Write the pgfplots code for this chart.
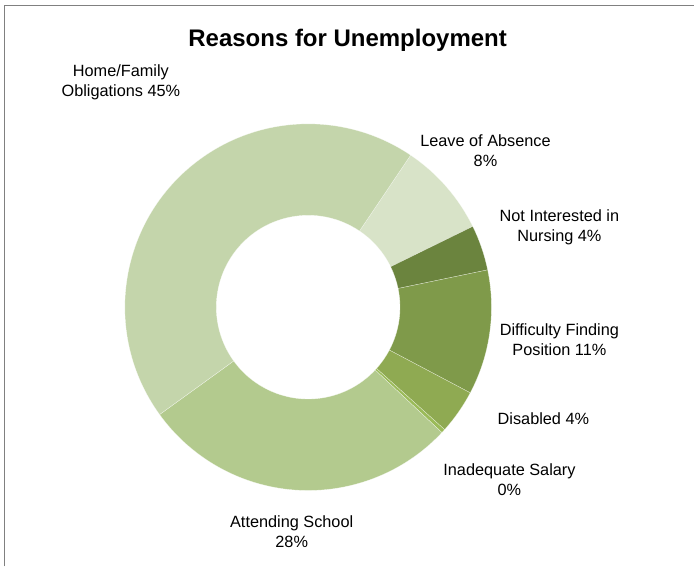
\documentclass[border=0pt]{standalone}
\usepackage{pgfplots}
\pgfplotsset{compat=1.18}
\usepackage{fontspec}
\setmainfont{Liberation Sans}
\usetikzlibrary{calc}
\definecolor{cHome}{RGB}{196,213,171}
\definecolor{cLeave}{RGB}{216,227,200}
\definecolor{cNot}{RGB}{107,132,62}
\definecolor{cDiff}{RGB}{127,154,74}
\definecolor{cDis}{RGB}{143,170,82}
\definecolor{cInad}{RGB}{155,187,89}
\definecolor{cAtt}{RGB}{179,202,142}
\def\cx{308.5}\def\cy{259.5}
\def\Ro{183.5}\def\Ri{92}
% slice: start percent, value percent, colour
\newcommand\slice[3]{%
  \pgfmathsetmacro\aA{90-(#1)*3.6}%
  \pgfmathsetmacro\aB{90-(#1+#2)*3.6}%
  \edef\temp{\noexpand\fill[#3, draw=white, draw opacity=0.6, line width=0.35pt]
    ($(axis cs:\cx,\cy)+(\aA:\Ro pt)$) arc[start angle=\aA, end angle=\aB, radius=\Ro pt]
    -- ($(axis cs:\cx,\cy)+(\aB:\Ri pt)$) arc[start angle=\aB, end angle=\aA, radius=\Ri pt] -- cycle;}%
  \temp}
\begin{document}
\begin{tikzpicture}
\begin{axis}[
  scale only axis, width=695pt, height=567pt,
  xmin=0, xmax=695, ymin=0, ymax=567,
  hide axis, clip=false,
]
\path (axis cs:0,0) (axis cs:695,567);
% data: start offset 9.44 (=34 deg), values in percent
\slice{9.44}{8.3}{cLeave}
\slice{17.74}{4.0}{cNot}
\slice{21.74}{11.0}{cDiff}
\slice{32.74}{3.9}{cDis}
\slice{36.64}{0.35}{cInad}
\slice{36.99}{28.05}{cAtt}
\slice{65.04}{44.40}{cHome}
\draw[color={rgb,255:red,128;green,128;blue,128}, line width=1.5pt]
  (axis cs:4.5,0) -- (axis cs:4.5,561.5) -- (axis cs:695,561.5);
\node[font=\fontsize{24}{28}\selectfont\bfseries] at (axis cs:348,527) {Reasons for Unemployment};
\tikzset{lbl/.style={align=center, font=\fontsize{16.3}{20}\selectfont, inner sep=0pt}}
\node[lbl] at (axis cs:121,485) {Home/Family\\Obligations 45\%};
\node[lbl] at (axis cs:486,416.5) {Leave of Absence\\8\%};
\node[lbl] at (axis cs:560,339) {Not Interested in\\Nursing 4\%};
\node[lbl] at (axis cs:560,227) {Difficulty Finding\\Position 11\%};
\node[lbl] at (axis cs:544,148) {Disabled 4\%};
\node[lbl] at (axis cs:510,87) {Inadequate Salary\\0\%};
\node[lbl] at (axis cs:292,35) {Attending School\\28\%};
\end{axis}
\end{tikzpicture}
\end{document}
